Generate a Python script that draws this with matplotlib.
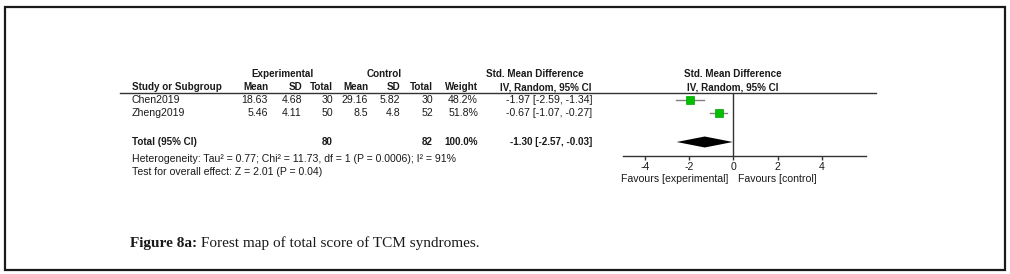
import matplotlib.pyplot as plt
from matplotlib.patches import Rectangle

# study data
studies = ['Chen2019', 'Zheng2019']
exp_mean = ['18.63', '5.46']
exp_sd = ['4.68', '4.11']
exp_n = [30, 50]
ctl_mean = ['29.16', '8.5']
ctl_sd = ['5.82', '4.8']
ctl_n = [30, 52]
weights = [48.2, 51.8]
smd = [-1.97, -0.67]
ci_lo = [-2.59, -1.07]
ci_hi = [-1.34, -0.27]

total_smd = -1.30
total_lo = -2.57
total_hi = -0.03
het_text = 'Heterogeneity: Tau\u00b2 = 0.77; Chi\u00b2 = 11.73, df = 1 (P = 0.0006); I\u00b2 = 91%'
effect_text = 'Test for overall effect: Z = 2.01 (P = 0.04)'
xticks = [-4, -2, 0, 2, 4]
caption_bold = 'Figure 8a:'
caption_rest = ' Forest map of total score of TCM syndromes.'

plt.rcParams['font.family'] = ['Liberation Sans', 'DejaVu Sans']
txt = '#1a1a1a'
fs = 7.6   # regular text
fsb = 7.1  # bold text

fig = plt.figure(figsize=(10.1, 2.74), dpi=100)

# background axes in pixel coordinates for the table part
bg = fig.add_axes([0, 0, 1, 1])
bg.set_xlim(0, 1010)
bg.set_ylim(274, 0)
bg.axis('off')
bg.add_patch(Rectangle((4.5, 6.5), 1000.5, 263.5, fill=False, lw=1.6, ec='#1a1a1a'))

row_y = [100, 113]
tot_y = 142

# headers
bg.text(283, 74, 'Experimental', ha='center', va='center', fontsize=fsb, weight='bold', color=txt)
bg.text(384, 74, 'Control', ha='center', va='center', fontsize=fsb, weight='bold', color=txt)
bg.text(535, 74, 'Std. Mean Difference', ha='center', va='center', fontsize=fsb, weight='bold', color=txt)
bg.text(733, 74, 'Std. Mean Difference', ha='center', va='center', fontsize=fsb, weight='bold', color=txt)
bg.text(132, 87, 'Study or Subgroup', ha='left', va='center', fontsize=fsb, weight='bold', color=txt)
heads = [(268, 'Mean'), (302, 'SD'), (333, 'Total'), (368, 'Mean'), (400, 'SD'),
         (433, 'Total'), (478, 'Weight'), (592, 'IV, Random, 95% CI')]
for x, h in heads:
    bg.text(x, 87, h, ha='right', va='center', fontsize=fsb, weight='bold', color=txt)
bg.text(733, 87, 'IV, Random, 95% CI', ha='center', va='center', fontsize=fsb, weight='bold', color=txt)
bg.plot([120, 876], [92.5, 92.5], color='#333333', lw=1)

# study rows
for i, y in enumerate(row_y):
    bg.text(132, y, studies[i], ha='left', va='center', fontsize=fs, color=txt)
    cells = [(268, exp_mean[i]), (302, exp_sd[i]), (333, str(exp_n[i])),
             (368, ctl_mean[i]), (400, ctl_sd[i]), (433, str(ctl_n[i])),
             (478, f'{weights[i]:.1f}%'),
             (592, f'{smd[i]:.2f} [{ci_lo[i]:.2f}, {ci_hi[i]:.2f}]')]
    for x, c in cells:
        bg.text(x, y, c, ha='right', va='center', fontsize=fs, color=txt)

# total row
bg.text(132, tot_y, 'Total (95% CI)', ha='left', va='center', fontsize=fsb, weight='bold', color=txt)
tot_cells = [(333, str(sum(exp_n))), (433, str(sum(ctl_n))), (478, f'{sum(weights):.1f}%'),
             (592, f'{total_smd:.2f} [{total_lo:.2f}, {total_hi:.2f}]')]
for x, c in tot_cells:
    bg.text(x, tot_y, c, ha='right', va='center', fontsize=fsb, weight='bold', color=txt)
bg.text(132, 159, het_text, ha='left', va='center', fontsize=fs, color=txt)
bg.text(132, 172, effect_text, ha='left', va='center', fontsize=fs, color=txt)

bg.text(728, 179, 'Favours [experimental]', ha='right', va='center', fontsize=fs, color=txt)
bg.text(738, 179, 'Favours [control]', ha='left', va='center', fontsize=fs, color=txt)

# caption
cap = bg.text(130, 243, caption_bold, ha='left', va='center', fontsize=11,
              family='Liberation Serif', weight='bold', color=txt)
fig.canvas.draw()
bb = cap.get_window_extent()
bg.text(130 + bb.width, 243, caption_rest, ha='left', va='center', fontsize=11,
        family='Liberation Serif', color=txt)

# forest axes: x in SMD units, y in pixel rows
x0, x1 = -5, 6
left_px, right_px = 623, 866
top_px, bot_px = 92.5, 156
ax = fig.add_axes([left_px / 1010, 1 - bot_px / 274, (right_px - left_px) / 1010, (bot_px - top_px) / 274])
ax.set_xlim(x0, x1)
ax.set_ylim(bot_px, top_px)
ax.patch.set_alpha(0)
for s in ['top', 'left', 'right']:
    ax.spines[s].set_visible(False)
ax.spines['bottom'].set_color('#333333')
ax.spines['bottom'].set_linewidth(1)
ax.set_yticks([])
ax.set_xticks(xticks)
ax.set_xticklabels([str(t) for t in xticks], fontsize=fs, color=txt)
ax.tick_params(axis='x', length=3, width=1, color='#333333', pad=1)
ax.axvline(0, color='#333333', lw=1)

for i, y in enumerate(row_y):
    ax.plot([ci_lo[i], ci_hi[i]], [y, y], color='#808080', lw=1)
    ax.plot(smd[i], y, marker='s', ms=0.85 * weights[i] ** 0.5, color='#00c000',
            mec='#00a000', mew=0.5)

h = 5.5
ax.fill([total_lo, total_smd, total_hi, total_smd], [tot_y, tot_y - h, tot_y, tot_y + h],
        color='black', lw=0)

fig.savefig('out.png', dpi=100)
